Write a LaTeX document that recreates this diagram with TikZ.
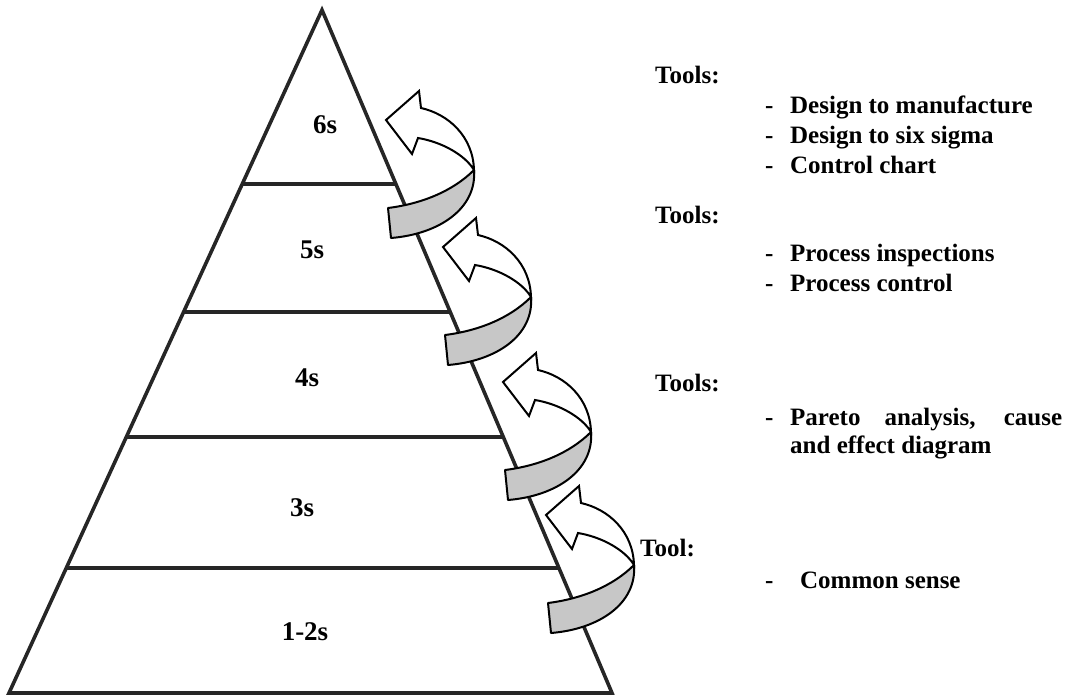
\documentclass[tikz,border=0pt]{standalone}
\usepackage{fontspec}
\setmainfont{Liberation Serif}
\usetikzlibrary{calc}
\definecolor{bandgray}{gray}{0.78}
\tikzset{
  pyr/.style={line width=3.6pt, line join=miter, black!85},
  lvl/.style={line width=3.2pt, black!85},
  lvltext/.style={font=\bfseries\fontsize{27}{31}\selectfont, inner sep=0pt},
  tooltext/.style={font=\bfseries\fontsize{25}{29}\selectfont, anchor=base west, inner sep=0pt},
  band/.style={fill=bandgray, draw=black, line width=2pt, line join=round},
  arrowbody/.style={fill=white, draw=black, line width=2pt, line join=miter},
}
\newcommand\itemdash[1]{\makebox[25pt][l]{-}#1}
\newcommand\uturn[2]{%
  \begin{scope}[shift={(#1,#2)}]
    \draw[band] (388,208) -- (391,238) .. controls (440,234) and (477,208) .. (474,170)
      .. controls (452,192) and (420,204) .. (388,208) -- cycle;
    \draw[arrowbody] (474,170) .. controls (473,136) and (448,114) .. (421,108)
      -- (419,91) -- (386,120) -- (412,154) -- (418,138)
      .. controls (442,142) and (465,155) .. (474,170) -- cycle;
  \end{scope}}
\begin{document}
\begin{tikzpicture}[x=1pt,y=-1pt]
\useasboundingbox (0,0) rectangle (1067,699);
% pyramid
\coordinate (A) at (322,10);
\coordinate (BL) at (9,693);
\coordinate (BR) at (612,693);
\draw[pyr] (A) -- (BL) -- (BR) -- cycle;
\foreach \t/\n in {0.2548/l5, 0.4422/l4, 0.6252/l3, 0.817/l2}{
  \draw[lvl] ($(A)!\t!(BL)$) coordinate (\n L) -- ($(A)!\t!(BR)$) coordinate (\n R);
}
% level labels
\node[lvltext] (s6) at (325,125) {6s};
\node[lvltext] (s5) at (312,250) {5s};
\node[lvltext] (s4) at (307,378) {4s};
\node[lvltext] (s3) at (302,508) {3s};
\node[lvltext] (s12) at (305,632) {1-2s};
% arrows
\uturn{0}{0}
\uturn{57}{127}
\uturn{117}{262}
\uturn{160}{395}
% tools text
\node[tooltext] (t1) at (655,83) {Tools:};
\node[tooltext] (t1a) at (765,113) {\itemdash{Design to manufacture}};
\node[tooltext] (t1b) at (765,143) {\itemdash{Design to six sigma}};
\node[tooltext] (t1c) at (765,173) {\itemdash{Control chart}};
\node[tooltext] (t2) at (655,223) {Tools:};
\node[tooltext] (t2a) at (765,261) {\itemdash{Process inspections}};
\node[tooltext] (t2b) at (765,291) {\itemdash{Process control}};
\node[tooltext] (t3) at (655,391) {Tools:};
\node[tooltext] (t3a) at (765,425) {\makebox[25pt][l]{-}\makebox[272pt][s]{Pareto analysis, cause}};
\node[tooltext] (t3b) at (790,453) {and effect diagram};
\node[tooltext] (t4) at (640,556) {Tool:};
\node[tooltext] (t4a) at (765,588) {\makebox[35pt][l]{-}Common sense};
\end{tikzpicture}
\end{document}
